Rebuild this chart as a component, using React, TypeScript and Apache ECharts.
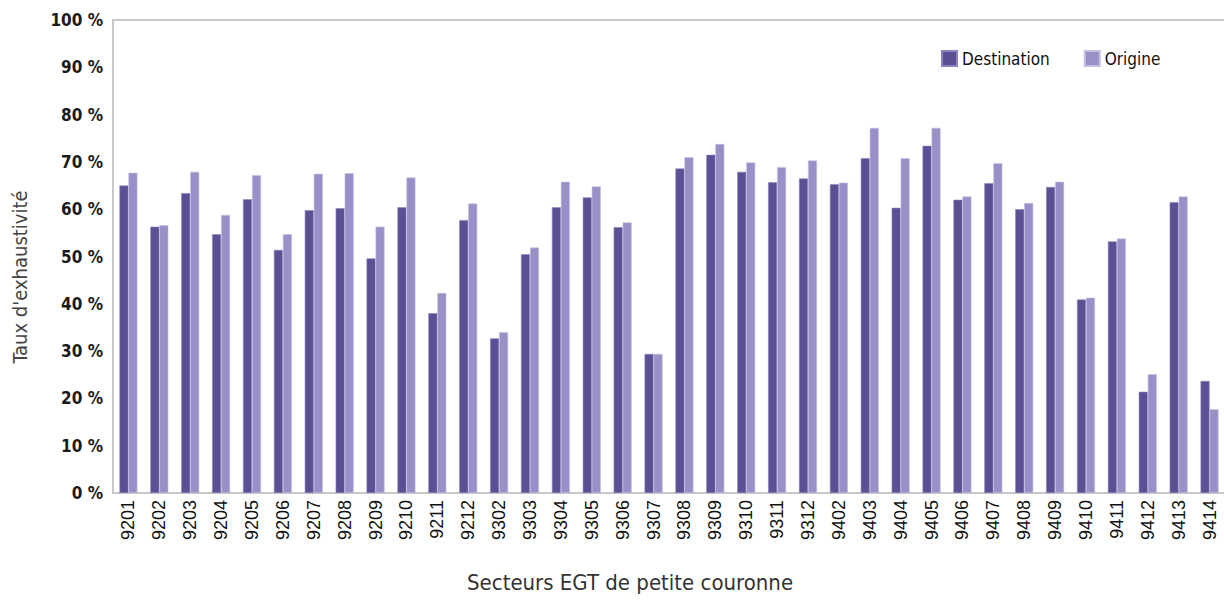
import React, { useEffect, useRef } from "react";
import * as echarts from "echarts";

const categories = [
  "9201", "9202", "9203", "9204", "9205", "9206", "9207", "9208", "9209", "9210", "9211", "9212",
  "9302", "9303", "9304", "9305", "9306", "9307", "9308", "9309", "9310", "9311", "9312",
  "9402", "9403", "9404", "9405", "9406", "9407", "9408", "9409", "9410", "9411", "9412", "9413", "9414",
];

const destination = [
  65.0, 56.3, 63.4, 54.7, 62.1, 51.4, 59.8, 60.2, 49.6, 60.4, 38.0, 57.7,
  32.7, 50.5, 60.4, 62.5, 56.2, 29.4, 68.6, 71.5, 67.9, 65.7, 66.5,
  65.3, 70.8, 60.3, 73.4, 62.0, 65.5, 60.0, 64.7, 40.9, 53.2, 21.4, 61.5, 23.7,
];

const origine = [
  67.7, 56.6, 67.9, 58.8, 67.2, 54.7, 67.5, 67.6, 56.3, 66.7, 42.3, 61.2,
  34.0, 51.9, 65.8, 64.8, 57.2, 29.4, 71.0, 73.8, 69.9, 68.9, 70.3,
  65.6, 77.2, 70.8, 77.2, 62.7, 69.7, 61.3, 65.8, 41.3, 53.8, 25.1, 62.7, 17.7,
];

const seriesNames = ["Destination", "Origine"];
const yTicks = [0, 10, 20, 30, 40, 50, 60, 70, 80, 90, 100];
const xTitle = "Secteurs EGT de petite couronne";
const yTitle = "Taux d'exhaustivité";

const NARROW = "'DejaVu Sans Condensed', 'Liberation Sans', sans-serif";

export default function App() {
  const ref = useRef<HTMLDivElement>(null);

  useEffect(() => {
    if (!ref.current) return;
    const chart = echarts.init(ref.current, undefined, { renderer: "svg" });
    chart.setOption({
      animation: false,
      backgroundColor: "#ffffff",
      textStyle: { fontFamily: NARROW },
      legend: {
        data: seriesNames,
        top: 50,
        left: 941,
        padding: 0,
        itemWidth: 15,
        itemHeight: 15,
        itemGap: 34,
        icon: "rect",
        textStyle: { fontSize: 17, color: "#111", fontFamily: NARROW },
      },
      grid: {
        left: 113,
        top: 20,
        width: 1112,
        height: 473,
        show: true,
        borderColor: "#c8c8c8",
        borderWidth: 2,
        containLabel: false,
        outerBoundsMode: "none",
      },
      graphic: [
        {
          type: "text",
          left: 467,
          top: 571,
          style: { text: xTitle, fontSize: 22, fill: "#333", fontFamily: NARROW },
        },
        {
          type: "text",
          x: 10,
          y: 277,
          rotation: Math.PI / 2,
          style: {
            text: yTitle,
            fontSize: 20,
            fill: "#444",
            fontFamily: NARROW,
            align: "center",
            verticalAlign: "top",
          },
        },
      ],
      xAxis: {
        type: "category",
        data: categories,
        axisLine: { show: true, lineStyle: { color: "#c8c8c8", width: 2 } },
        axisTick: { show: false },
        axisLabel: {
          rotate: 90,
          interval: 0,
          margin: 7,
          fontSize: 18,
          color: "#111",
          fontFamily: "'Liberation Sans', sans-serif",
        },
      },
      yAxis: {
        type: "value",
        min: yTicks[0],
        max: yTicks[yTicks.length - 1],
        interval: 10,
        axisLine: { show: true, lineStyle: { color: "#c8c8c8", width: 2 } },
        axisTick: { show: false },
        splitLine: { show: false },
        axisLabel: {
          formatter: (v: number) => `${v} %`,
          margin: 10,
          fontSize: 17,
          fontWeight: "bold",
          color: "#1a1a1a",
          fontFamily: NARROW,
        },
      },
      series: [
        {
          name: seriesNames[0],
          type: "bar",
          data: destination,
          barWidth: 9,
          barGap: "0%",
          itemStyle: { color: "#5a5094", borderColor: "#8c84bc", borderWidth: 0.6 },
        },
        {
          name: seriesNames[1],
          type: "bar",
          data: origine,
          barWidth: 9,
          barGap: "0%",
          itemStyle: { color: "#9890c6", borderColor: "#c4bfe2", borderWidth: 0.6 },
        },
      ],
    });
    return () => chart.dispose();
  }, []);

  return (
    <div
      ref={ref}
      style={{ position: "fixed", left: 0, top: 0, width: 1224, height: 601, background: "#fff" }}
    />
  );
}
